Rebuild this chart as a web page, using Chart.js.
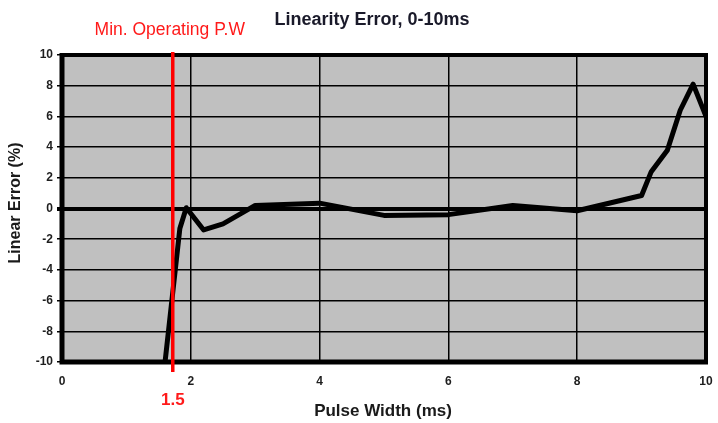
<!DOCTYPE html>
<html>
<head>
<meta charset="utf-8">
<script src="https://cdn.jsdelivr.net/npm/chart.js@4"></script>
<style>
  html, body { margin: 0; padding: 0; background: #fff; }
  #wrap { width: 718px; height: 423px; }
</style>
</head>
<body>
<div id="wrap"><canvas id="linearityChart" width="718" height="423"></canvas></div>
<script>
// values
const pulseWidth  = [1.6, 1.83, 1.93, 2.2, 2.5, 3, 4, 5, 6, 7, 8, 9, 9.15, 9.4, 9.6, 9.8, 10];
const linearError = [-10, -1.3, 0.05, -1.4, -1.0, 0.2, 0.35, -0.45, -0.4, 0.2, -0.15, 0.85, 2.4, 3.8, 6.4, 8.1, 6.0];
const xTicks = [0, 2, 4, 6, 8, 10];
const yTicks = [-10, -8, -6, -4, -2, 0, 2, 4, 6, 8, 10];
const minPulseWidth = 1.72;
const minPulseSpan = [10.2, -10.65];
const minPulseLabel = 'Min. Operating P.W';
const minPulseValue = '1.5';
const chartTitle = 'Linearity Error, 0-10ms';
const xTitle = 'Pulse Width (ms)';
const yTitle = 'Linear Error (%)';

const FONT = "'Liberation Sans', Arial, sans-serif";

const plotFrame = {
    id: 'plotFrame',
    beforeDraw(chart) {
        const { ctx, chartArea: a } = chart;
        ctx.save();
        ctx.fillStyle = '#c0c0c0';
        ctx.fillRect(a.left, a.top, a.right - a.left, a.bottom - a.top);
        ctx.restore();
    },
    beforeDatasetsDraw(chart) {
        const { ctx, chartArea: a } = chart;
        ctx.save();
        ctx.strokeStyle = '#000';
        ctx.lineWidth = 4;
        ctx.strokeRect(a.left, a.top, a.right - a.left, a.bottom - a.top);
        ctx.lineWidth = 5;
        ctx.beginPath();
        ctx.moveTo(a.left, a.top - 2);
        ctx.lineTo(a.left, a.bottom);
        ctx.lineTo(a.right + 2, a.bottom);
        ctx.stroke();
        ctx.restore();
    },
    afterDraw(chart) {
        const { ctx, chartArea: a, scales } = chart;
        const redX = scales.x.getPixelForValue(minPulseWidth);
        ctx.save();
        ctx.textAlign = 'center';
        ctx.textBaseline = 'alphabetic';

        ctx.fillStyle = '#1a1a2a';
        ctx.font = 'bold 18px ' + FONT;
        ctx.fillText(chartTitle, 372, 25);

        ctx.fillStyle = '#ff1a1a';
        ctx.font = '17.5px ' + FONT;
        ctx.fillText(minPulseLabel, redX - 3, 35);

        ctx.font = 'bold 17px ' + FONT;
        ctx.fillText(minPulseValue, redX, 405);

        ctx.fillStyle = '#1a1a1a';
        ctx.font = 'bold 17px ' + FONT;
        ctx.fillText(xTitle, 383, 416);

        ctx.font = 'bold 16px ' + FONT;
        ctx.translate(20, 203);
        ctx.rotate(-Math.PI / 2);
        ctx.fillText(yTitle, 0, 0);
        ctx.restore();
    }
};

new Chart(document.getElementById('linearityChart'), {
    type: 'line',
    data: {
        datasets: [{
            label: 'Min. operating pulse width',
            data: minPulseSpan.map(y => ({ x: minPulseWidth, y })),
            borderColor: '#ff0000',
            borderWidth: 3.5,
            pointRadius: 0,
            clip: false
        }, {
            label: 'Linearity error',
            data: pulseWidth.map((x, i) => ({ x, y: linearError[i] })),
            borderColor: '#000',
            borderWidth: 5,
            borderJoinStyle: 'round',
            borderCapStyle: 'round',
            pointRadius: 0,
            tension: 0
        }]
    },
    options: {
        responsive: false,
        animation: false,
        devicePixelRatio: 1,
        layout: { padding: { top: 55, right: 12, left: 0, bottom: 0 } },
        plugins: {
            legend: { display: false },
            tooltip: { enabled: false },
            title: { display: false }
        },
        scales: {
            x: {
                type: 'linear',
                min: 0,
                max: 10,
                afterBuildTicks(scale) { scale.ticks = xTicks.map(value => ({ value })); },
                afterFit(scale) {
                    scale.height = 61;
                    scale.paddingLeft = 0;
                    scale.paddingRight = 0;
                },
                border: { display: false },
                grid: { color: '#000', lineWidth: 1.5, drawTicks: false },
                ticks: {
                    color: '#1e1e1e',
                    font: { family: FONT, size: 12, weight: 'bold' },
                    padding: 12,
                    maxRotation: 0
                }
            },
            y: {
                type: 'linear',
                min: -10,
                max: 10,
                afterBuildTicks(scale) { scale.ticks = yTicks.map(value => ({ value })); },
                afterFit(scale) {
                    scale.width = 62;
                    scale.paddingTop = 0;
                    scale.paddingBottom = 0;
                },
                border: { display: false },
                grid: {
                    color: '#000',
                    lineWidth: c => (c.tick && c.tick.value === 0 ? 4 : 1.5),
                    tickLength: 5
                },
                ticks: {
                    color: '#1e1e1e',
                    font: { family: FONT, size: 12, weight: 'bold' },
                    padding: 4
                }
            }
        }
    },
    plugins: [plotFrame]
});
</script>
</body>
</html>
